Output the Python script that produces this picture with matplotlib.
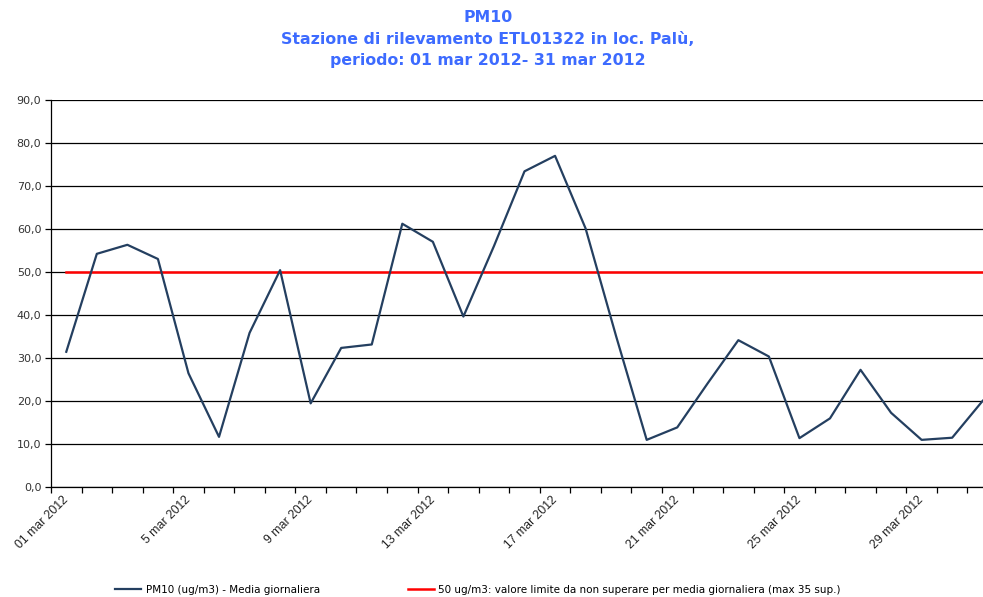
import matplotlib
matplotlib.use("Agg")
import matplotlib.pyplot as plt
from matplotlib.ticker import FixedLocator
from matplotlib.transforms import ScaledTranslation

days = list(range(1, 32))
pm10 = [31.4, 54.2, 56.3, 53.0, 26.4, 11.6, 35.8, 50.4, 19.4, 32.3, 33.1, 61.2,
        57.0, 39.6, 56.0, 73.4, 77.0, 60.1, 35.0, 10.9, 13.8, 24.1, 34.1, 30.3,
        11.3, 15.9, 27.2, 17.2, 10.9, 11.4, 20.0]
limit = [50.0] * len(days)
tick_labels = ["01 mar 2012", "5 mar 2012", "9 mar 2012", "13 mar 2012",
               "17 mar 2012", "21 mar 2012", "25 mar 2012", "29 mar 2012"]
label_days = [1, 5, 9, 13, 17, 21, 25, 29]
yticks = [0, 10, 20, 30, 40, 50, 60, 70, 80, 90]

fig = plt.figure(figsize=(9.83, 5.97), dpi=100)
W, H = 983, 597
ax = fig.add_axes([51 / W, (H - 486.7) / H, (998 - 51) / W, (486.7 - 100) / H])

for y in yticks:
    ax.axhline(y, color="black", lw=0.9, zorder=1)

l1, = ax.plot(days, pm10, color="#243F60", lw=1.6, zorder=3,
              label="PM10 (ug/m3) - Media giornaliera")
l2, = ax.plot(days, limit, color="#FF0000", lw=1.8, zorder=2,
              label="50 ug/m3: valore limite da non superare per media giornaliera (max 35 sup.)")

ax.set_xlim(0.5, 31.5)
ax.set_ylim(0, 90)
ax.set_yticks(yticks)
ax.set_yticklabels([f"{v:.1f}".replace(".", ",") for v in yticks],
                   fontsize=8, color="#333333", family="DejaVu Sans")
ax.tick_params(axis="y", length=4, width=0.9, direction="out", pad=3)

ax.xaxis.set_minor_locator(FixedLocator([d + 0.5 for d in range(0, 32)]))
ax.xaxis.set_major_locator(FixedLocator(label_days))
ax.set_xticklabels(tick_labels, rotation=45, ha="right", rotation_mode="anchor",
                   fontsize=8.8, family="Liberation Sans", color="#222222")
ax.tick_params(axis="x", which="major", length=0, pad=5)
ax.tick_params(axis="x", which="minor", length=4, width=0.9, direction="out")
offset = ScaledTranslation(-4 / 100, 0, fig.dpi_scale_trans)
for lab in ax.get_xticklabels():
    lab.set_transform(lab.get_transform() + offset)

for s in ["top", "right"]:
    ax.spines[s].set_visible(False)
ax.spines["left"].set_linewidth(0.9)
ax.spines["bottom"].set_linewidth(0.9)

tkw = dict(ha="center", va="center", color="#3D6BFF", fontsize=11.3,
           fontweight="bold", family="DejaVu Sans")
fig.text(488 / W, 1 - 17 / H, "PM10", **tkw)
fig.text(488 / W, 1 - 39.5 / H, "Stazione di rilevamento ETL01322 in loc. Palù,", **tkw)
fig.text(488 / W, 1 - 61 / H, "periodo: 01 mar 2012- 31 mar 2012", **tkw)

fig.legend(handles=[l1, l2], loc="center left", bbox_to_anchor=(106 / W, 1 - 590 / H),
           ncol=2, frameon=False, handlelength=2.5, handletextpad=0.4,
           columnspacing=8.5, prop={"family": "Liberation Sans Narrow", "size": 7.5})

fig.savefig("out.png", dpi=100)
